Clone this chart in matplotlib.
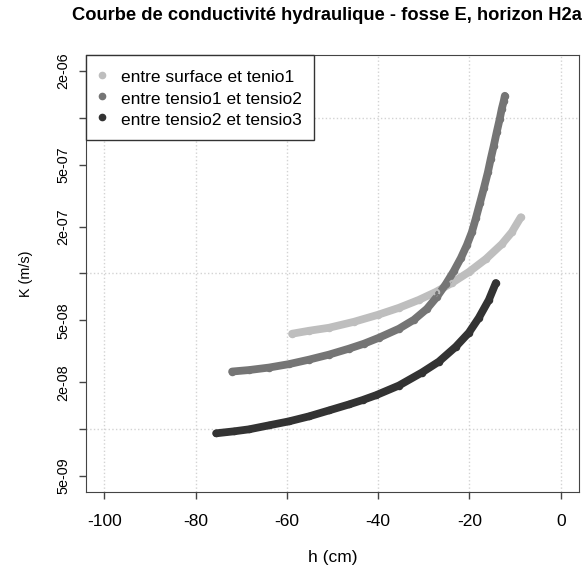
import matplotlib
matplotlib.use("Agg")
import matplotlib.pyplot as plt
from matplotlib.lines import Line2D

plt.rcParams["font.family"] = ["Liberation Sans", "DejaVu Sans"]

title = "Courbe de conductivité hydraulique - fosse E, horizon H2a"
labels = ["entre surface et tenio1", "entre tensio1 et tensio2", "entre tensio2 et tensio3"]
colors = ["#bebebe", "#757575", "#333333"]

# surface -> tensio1
h_surf = [-58.86, -55.14, -50.77, -45.30, -40.04, -35.45, -31.07, -27.35, -23.85,
          -20.13, -16.41, -12.91, -10.72, -8.75]
k_surf = [4.102e-8, 4.287e-8, 4.481e-8, 4.894e-8, 5.427e-8, 6.017e-8, 6.768e-8,
          7.613e-8, 8.69e-8, 1.022e-7, 1.238e-7, 1.543e-7, 1.842e-7, 2.297e-7]

# tensio1 -> tensio2
h_t12 = [-71.99, -68.27, -63.89, -59.52, -55.14, -50.77, -46.39, -43.11, -39.82,
         -35.45, -32.17, -29.32, -27.13, -25.16, -23.41, -21.88, -20.57, -19.47,
         -18.60, -17.72, -16.85, -15.97, -15.32, -14.66, -14.00, -13.35, -12.91,
         -12.47, -12.25]
k_t12 = [2.346e-8, 2.398e-8, 2.488e-8, 2.618e-8, 2.797e-8, 3.012e-8, 3.290e-8,
         3.540e-8, 3.868e-8, 4.416e-8, 5.041e-8, 5.929e-8, 7.073e-8, 8.56e-8,
         1.037e-7, 1.256e-7, 1.521e-7, 1.842e-7, 2.263e-7, 2.822e-7, 3.52e-7,
         4.455e-7, 5.47e-7, 6.63e-7, 8.15e-7, 9.87e-7, 1.143e-6, 1.286e-6, 1.384e-6]

# tensio2 -> tensio3
h_t23 = [-75.49, -71.55, -68.27, -63.89, -59.52, -55.14, -50.77, -46.39, -43.40,
         -40.48, -35.45, -30.42, -26.70, -22.98, -20.13, -17.94, -15.75, -14.22]
k_t23 = [9.41e-9, 9.69e-9, 9.98e-9, 1.059e-8, 1.123e-8, 1.209e-8, 1.320e-8,
         1.442e-8, 1.539e-8, 1.652e-8, 1.907e-8, 2.311e-8, 2.716e-8, 3.388e-8,
         4.164e-8, 5.192e-8, 6.768e-8, 8.69e-8]

x_ticks = [-100, -80, -60, -40, -20, 0]
y_ticks = [5e-9, 1e-8, 2e-8, 5e-8, 1e-7, 2e-7, 5e-7, 1e-6, 2e-6]
y_ticklabels = ["5e-09", "", "2e-08", "5e-08", "", "2e-07", "5e-07", "", "2e-06"]
y_grid = [1e-8, 1e-7, 1e-6]

fig = plt.figure(figsize=(5.88, 5.70), dpi=100)
ax = fig.add_axes([86 / 588, 1 - 492 / 570, 493 / 588, 437 / 570])
ax.set_yscale("log")
ax.set_xlim(-104, 4)
ax.set_ylim(3.95e-9, 2.53e-6)

for x in x_ticks:
    ax.axvline(x, color="#d3d3d3", ls=":", lw=1, zorder=0)
for y in y_grid:
    ax.axhline(y, color="#d3d3d3", ls=":", lw=1, zorder=0)

series = [(h_surf, k_surf), (h_t12, k_t12), (h_t23, k_t23)]
for (h, k), c in zip(series, colors):
    ax.plot(h, k, "-", color=c, lw=5.6, solid_capstyle="round",
            solid_joinstyle="round", zorder=2)
    ax.plot(h, k, "o", color=c, mfc="none", ms=4.0, mew=1.4, zorder=3)

ax.set_xticks(x_ticks)
ax.set_xticklabels([str(v) for v in x_ticks])
ax.yaxis.set_minor_locator(plt.NullLocator())
ax.set_yticks(y_ticks)
ax.set_yticklabels(y_ticklabels)
ax.tick_params(axis="both", direction="out", length=5, width=1, color="#444444")
ax.tick_params(axis="x", labelsize=12.5, pad=11)
ax.tick_params(axis="y", labelsize=10.4, pad=6)
for lbl in ax.get_yticklabels():
    lbl.set_rotation(90)
    lbl.set_va("center")
for s in ax.spines.values():
    s.set_color("#444444")

ax.set_xlabel("h (cm)", fontsize=12.5)
ax.xaxis.set_label_coords(0.5, -0.133)
ax.set_ylabel("K (m/s)", fontsize=10.4)
ax.yaxis.set_label_coords(-0.1075, 0.5)

fig.text(327 / 588, 1 - 15 / 570, title, ha="center", va="center",
         fontsize=13.2, fontweight="bold")

handles = [Line2D([], [], ls="", marker="o", ms=4.5, color=c) for c in colors]
leg = ax.legend(handles, labels, loc="upper left", bbox_to_anchor=(0, 1),
                borderaxespad=0, fontsize=12.5, fancybox=False, framealpha=1,
                edgecolor="#333333", borderpad=0.72, handlelength=0.45,
                handleheight=1.2, handletextpad=0.82, labelspacing=0.2)
leg.get_frame().set_linewidth(1)

fig.savefig("out.png", dpi=100)
